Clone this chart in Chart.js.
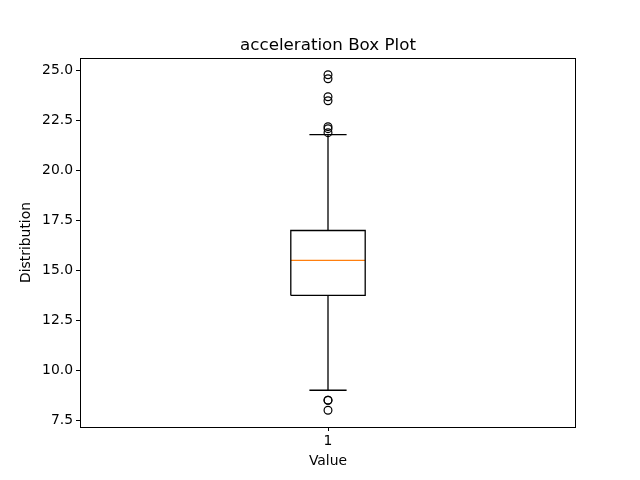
<!DOCTYPE html>
<html>
<head>
<meta charset="utf-8">
<script src="https://cdn.jsdelivr.net/npm/chart.js@4"></script>
<style>
  html, body { margin: 0; padding: 0; background: #fff; }
  #wrap { width: 640px; height: 480px; }
</style>
</head>
<body>
<div id="wrap"><canvas id="c" width="640" height="480"></canvas></div>
<script>
// ---- data ----
const categories = ['1'];
const positions = [1];
const q1Values = [13.75];
const medianValues = [15.5];
const q3Values = [17.0];
const whiskerLow = [9.0];
const whiskerHigh = [21.8];
const outlierValues = [[24.8, 24.6, 23.7, 23.5, 22.2, 22.1, 21.9, 8.5, 8.5, 8.0]];
const yTicks = [7.5, 10.0, 12.5, 15.0, 17.5, 20.0, 22.5, 25.0];
const chartTitle = 'acceleration Box Plot';

// ---- style constants ----
const BOX_HALF = 0.075;
const CAP_HALF = 0.0375;
const FONT = 'DejaVu Sans';
const LW = 1.3;

const lineDs = (data, color) => ({
  type: 'scatter', data, showLine: true, spanGaps: false,
  borderColor: color, borderWidth: LW, pointRadius: 0, pointHoverRadius: 0, fill: false
});

// build datasets from the stats
const datasets = [];
positions.forEach((p, i) => {
  datasets.push(lineDs([{x: p, y: q1Values[i]}, {x: p, y: whiskerLow[i]}], '#000000'));
  datasets.push(lineDs([{x: p, y: q3Values[i]}, {x: p, y: whiskerHigh[i]}], '#000000'));
  datasets.push(lineDs([{x: p - CAP_HALF, y: whiskerLow[i]}, {x: p + CAP_HALF, y: whiskerLow[i]}], '#000000'));
  datasets.push(lineDs([{x: p - CAP_HALF, y: whiskerHigh[i]}, {x: p + CAP_HALF, y: whiskerHigh[i]}], '#000000'));
  datasets.push(lineDs([{x: p - BOX_HALF, y: q1Values[i]}, {x: p + BOX_HALF, y: q1Values[i]},
                        {x: p + BOX_HALF, y: q3Values[i]}, {x: p - BOX_HALF, y: q3Values[i]},
                        {x: p - BOX_HALF, y: q1Values[i]}], '#000000'));
  datasets.push(lineDs([{x: p - BOX_HALF, y: medianValues[i]}, {x: p + BOX_HALF, y: medianValues[i]}], '#ff7f0e'));
  datasets.push({
    type: 'scatter', data: outlierValues[i].map(v => ({x: p, y: v})),
    pointStyle: 'circle', pointRadius: 3.9, pointBorderWidth: 1.2,
    pointBorderColor: '#000000', pointBackgroundColor: 'rgba(0,0,0,0)',
    showLine: false
  });
});

const framePlugin = {
  id: 'frame',
  afterDraw(chart) {
    const {ctx, chartArea: a} = chart;
    ctx.save();
    ctx.strokeStyle = '#000';
    ctx.lineWidth = 1;
    ctx.strokeRect(Math.round(a.left) + 0.5, Math.round(a.top) + 0.5,
                   Math.round(a.right - a.left) - 1, Math.round(a.bottom - a.top));
    // title centred over the axes area
    ctx.fillStyle = '#000';
    ctx.font = '16.7px "' + FONT + '"';
    ctx.textAlign = 'center';
    ctx.textBaseline = 'alphabetic';
    ctx.fillText(chartTitle, (a.left + a.right) / 2, 50);
    ctx.restore();
  }
};

new Chart(document.getElementById('c'), {
  type: 'scatter',
  data: { datasets },
  plugins: [framePlugin],
  options: {
    responsive: false,
    animation: false,
    events: [],
    layout: { padding: { left: 0, right: 64, top: 58, bottom: 0 } },
    plugins: {
      legend: { display: false },
      tooltip: { enabled: false },
      title: { display: false }
    },
    scales: {
      x: {
        type: 'linear',
        min: 0.5, max: 1.5,
        afterBuildTicks(scale) { scale.ticks = positions.map(v => ({value: v})); },
        afterFit(scale) { scale.height = 53; },
        ticks: {
          color: '#000',
          font: { family: FONT, size: 13.9 },
          padding: 2,
          maxRotation: 0,
          callback(value) { const i = positions.indexOf(value); return i >= 0 ? categories[i] : ''; }
        },
        grid: { display: true, drawOnChartArea: false, drawTicks: true, tickLength: 4, color: '#000' },
        border: { display: false },
        title: {
          display: true, text: 'Value', color: '#000',
          font: { family: FONT, size: 13.9 },
          padding: { top: 0, bottom: 10.5 }
        }
      },
      y: {
        type: 'linear',
        min: 7.16, max: 25.64,
        afterBuildTicks(scale) { scale.ticks = yTicks.map(v => ({value: v})); },
        afterFit(scale) { scale.width = 80; },
        ticks: {
          color: '#000',
          font: { family: FONT, size: 13.9 },
          padding: 3,
          callback(value) { return value.toFixed(1); }
        },
        grid: { display: true, drawOnChartArea: false, drawTicks: true, tickLength: 4, color: '#000' },
        border: { display: false },
        title: {
          display: true, text: 'Distribution', color: '#000',
          font: { family: FONT, size: 13.9 },
          padding: { top: 18, bottom: 0 }
        }
      }
    }
  }
});
</script>
</body>
</html>
